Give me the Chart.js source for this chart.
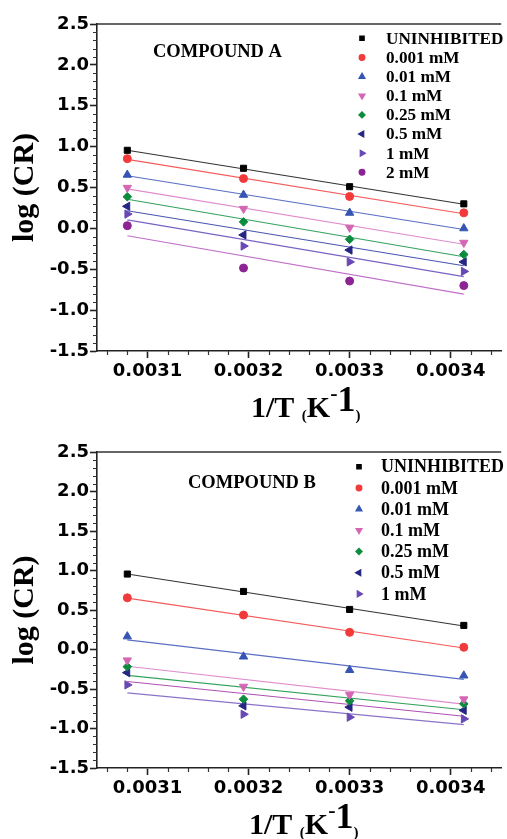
<!DOCTYPE html>
<html>
<head>
<meta charset="utf-8">
<script src="https://cdn.jsdelivr.net/npm/chart.js@4.4.1/dist/chart.umd.min.js"></script>
<style>
html, body { margin:0; padding:0; background:#fff; overflow:hidden; }
#wrapA { position:absolute; left:0; top:0; width:507px; height:425px; }
#wrapB { position:absolute; left:0; top:425px; width:507px; height:414px; }
canvas { display:block; }
</style>
</head>
<body>
<div id="wrapA"><canvas id="chartA" width="507" height="425"></canvas></div>
<div id="wrapB"><canvas id="chartB" width="507" height="414"></canvas></div>
<script>
// 1/T values (K^-1) shared by both panels
var invT = [0.00308, 0.003195, 0.0033, 0.003413];
var xTicks = [0.0031, 0.0032, 0.0033, 0.0034];
var yTicks = [-1.5, -1.0, -0.5, 0.0, 0.5, 1.0, 1.5, 2.0, 2.5];

// compound A, log(CR)
var labelsA = ['UNINHIBITED', '0.001 mM', '0.01 mM', '0.1 mM', '0.25 mM', '0.5 mM', '1 mM', '2 mM'];
var uninhibitedA = [0.955, 0.735, 0.51, 0.30];
var c0001A = [0.853, 0.609, 0.39, 0.19];
var c001A = [0.655, 0.41, 0.19, 0.0];
var c01A = [0.497, 0.24, 0.01, -0.175];
var c025A = [0.387, 0.08, -0.134, -0.32];
var c05A = [0.27, -0.08, -0.265, -0.41];
var c1A = [0.175, -0.216, -0.41, -0.526];
var c2A = [0.033, -0.485, -0.644, -0.70];

// compound B, log(CR)
var labelsB = ['UNINHIBITED', '0.001 mM', '0.01 mM', '0.1 mM', '0.25 mM', '0.5 mM', '1 mM'];
var uninhibitedB = [0.955, 0.735, 0.507, 0.305];
var c0001B = [0.654, 0.436, 0.217, 0.028];
var c001B = [0.165, -0.09, -0.26, -0.33];
var c01B = [-0.137, -0.47, -0.574, -0.63];
var c025B = [-0.217, -0.629, -0.65, -0.688];
var c05B = [-0.293, -0.713, -0.73, -0.77];
var c1B = [-0.448, -0.82, -0.857, -0.878];

var ptColors = ['#000000', '#f23a3a', '#3554b4', '#d466b4', '#0b8c3c', '#252583', '#6848b4', '#8c2494'];
var ptStyles = ['rect', 'circle', 'triangle', 'triangle', 'rectRot', 'triangle', 'triangle', 'circle'];
var ptRot = [0, 0, 0, 180, 0, -90, 90, 0];
var ptRadius = [4.3, 4, 4.8, 4.8, 4.3, 4.8, 4.8, 4];
var lineColorsA = ['#333333', '#f55a5a', '#5a6ec4', '#e08ccc', '#33a35c', '#4a55b0', '#7a62c4', '#c070c8'];
var lineColorsB = ['#333333', '#f55a5a', '#5a6ec4', '#e08ccc', '#33a35c', '#b050b4', '#8a74c8'];

var serif = '"Liberation Serif", "Times New Roman", serif';
var sans = '"DejaVu Sans", sans-serif';

// least squares fit, drawn from first to last point like the original
function fitLine(ys) {
  var n = invT.length, mx = 0, my = 0, sxy = 0, sxx = 0;
  for (var i = 0; i < n; i++) { mx += invT[i]; my += ys[i]; }
  mx /= n; my /= n;
  for (var j = 0; j < n; j++) {
    sxy += (invT[j] - mx) * (ys[j] - my);
    sxx += (invT[j] - mx) * (invT[j] - mx);
  }
  var b = sxy / sxx, a = my - b * mx;
  return [{x: invT[0], y: a + b * invT[0]}, {x: invT[n - 1], y: a + b * invT[n - 1]}];
}

function pts(ys) {
  return ys.map(function(v, i) { return {x: invT[i], y: v}; });
}

var extras = {
  id: 'extras',
  afterDraw: function(chart) {
    var o = chart.options.plugins.extras;
    var ctx = chart.ctx, xs = chart.scales.x, ys = chart.scales.y, a = chart.chartArea;
    ctx.save();
    // top frame line
    ctx.strokeStyle = '#333';
    ctx.lineWidth = 1.5;
    ctx.beginPath();
    ctx.moveTo(a.left, a.top);
    ctx.lineTo(a.right, a.top);
    ctx.stroke();
    // minor ticks
    ctx.lineWidth = 1.2;
    ctx.beginPath();
    for (var k = 153; k <= 172; k++) {
      if (k % 5 === 0) continue;
      var px = Math.round(xs.getPixelForValue(k * 0.00002)) + 0.5;
      ctx.moveTo(px, a.bottom);
      ctx.lineTo(px, a.bottom + 4);
    }
    for (var m = -15; m <= 25; m++) {
      if (m % 5 === 0) continue;
      var py = Math.round(ys.getPixelForValue(m / 10)) + 0.5;
      ctx.moveTo(a.left, py);
      ctx.lineTo(a.left - 4, py);
    }
    ctx.stroke();

    // compound label
    ctx.fillStyle = '#000';
    ctx.textBaseline = 'middle';
    ctx.textAlign = 'left';
    ctx.font = 'bold 18.5px ' + serif;
    ctx.fillText(o.name, o.nameX, o.nameY);

    // legend
    ctx.font = 'bold ' + o.legSize + 'px ' + serif;
    var n = 0;
    chart.data.datasets.forEach(function(ds) {
      if (!ds.isPoint) return;
      var y = o.legY + n * o.legStep;
      ctx.fillStyle = ds.backgroundColor;
      ctx.strokeStyle = ds.backgroundColor;
      Chart.helpers.drawPoint(ctx, {pointStyle: ds.pointStyle, rotation: ds.rotation, radius: ds.pointRadius * 0.72, borderWidth: 1}, o.legX, y);
      ctx.fillStyle = '#000';
      ctx.fillText(ds.label, o.legTextX, y + 1);
      n++;
    });

    // x axis title: 1/T (K-1)
    var base = a.bottom + 66;
    var segs = [
      ['1/T ', 30, 0], ['(', 15, 3], ['K', 30, 0], ['-', 22, -17], ['1', 36, -6], [')', 15, 3]
    ];
    var x = o.titleX;
    ctx.textBaseline = 'alphabetic';
    segs.forEach(function(s) {
      ctx.font = 'bold ' + s[1] + 'px ' + serif;
      ctx.fillText(s[0], x, base + s[2]);
      x += ctx.measureText(s[0]).width;
    });
    ctx.restore();
  }
};

function makeChart(id, labels, series, lineColors, cfg) {
  var datasets = [];
  series.forEach(function(ys, i) {
    datasets.push({
      label: labels[i], isPoint: true, data: pts(ys),
      pointStyle: ptStyles[i], rotation: ptRot[i], pointRadius: ptRadius[i],
      backgroundColor: ptColors[i], borderColor: ptColors[i], borderWidth: 1
    });
  });
  series.forEach(function(ys, i) {
    datasets.push({
      type: 'line', label: labels[i] + ' fit', data: fitLine(ys),
      borderColor: lineColors[i], borderWidth: 1.1, pointRadius: 0, fill: false
    });
  });
  return new Chart(document.getElementById(id), {
    type: 'scatter',
    data: { datasets: datasets },
    options: {
      responsive: false,
      animation: false,
      layout: { padding: { top: cfg.padTop, left: 0, right: 0, bottom: 0 } },
      plugins: { legend: { display: false }, tooltip: { enabled: false }, extras: cfg },
      scales: {
        x: {
          type: 'linear', min: 0.00305, max: 0.00345,
          afterBuildTicks: function(s) { s.ticks = xTicks.map(function(v) { return {value: v}; }); },
          afterFit: function(s) { s.height = cfg.xAxisH; },
          ticks: {
            callback: function(v) { return v.toFixed(4); },
            font: { family: sans, weight: 'bold', size: 18 }, color: '#000',
            padding: 3, maxRotation: 0, autoSkip: false
          },
          grid: { drawOnChartArea: false, tickLength: 7, tickColor: '#222', tickWidth: 1.6 },
          border: { color: '#222', width: 1.6 }
        },
        y: {
          type: 'linear', min: -1.5, max: 2.5,
          afterBuildTicks: function(s) { s.ticks = yTicks.map(function(v) { return {value: v}; }); },
          afterFit: function(s) { s.width = 97; },
          ticks: {
            callback: function(v) { return v.toFixed(1); },
            font: { family: sans, weight: 'bold', size: 18 }, color: '#000', padding: 1
          },
          grid: { drawOnChartArea: false, tickLength: 7, tickColor: '#222', tickWidth: 1.6 },
          border: { color: '#222', width: 1.6 },
          title: {
            display: true, text: 'log (CR)', color: '#000',
            font: { family: serif, weight: 'bold', size: 30 }, padding: { top: 7, bottom: 0 }
          }
        }
      }
    },
    plugins: [extras]
  });
}

makeChart('chartA', labelsA, [uninhibitedA, c0001A, c001A, c01A, c025A, c05A, c1A, c2A], lineColorsA, {
  padTop: 24, xAxisH: 74, name: 'COMPOUND A', nameX: 153, nameY: 52,
  legX: 362, legTextX: 386, legY: 38.3, legStep: 19.15, legSize: 17.2, titleX: 251
});
makeChart('chartB', labelsB, [uninhibitedB, c0001B, c001B, c01B, c025B, c05B, c1B], lineColorsB, {
  padTop: 27, xAxisH: 71, name: 'COMPOUND B', nameX: 188, nameY: 58.3,
  legX: 359, legTextX: 381, legY: 41.7, legStep: 21.2, legSize: 18, titleX: 249
});
</script>
</body>
</html>
